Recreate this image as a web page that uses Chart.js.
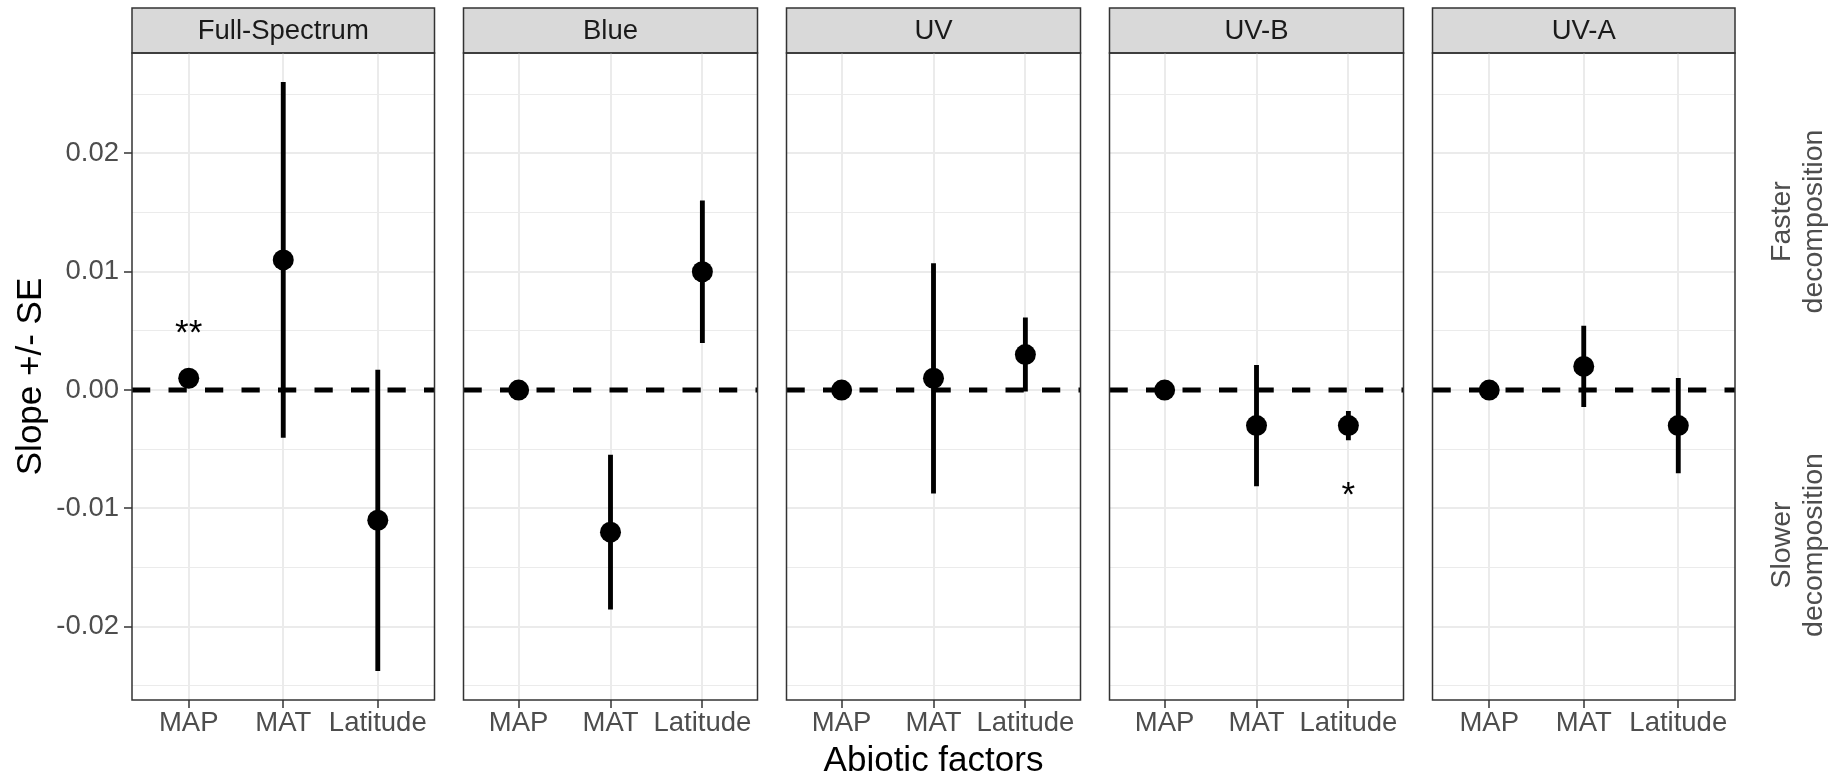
<!DOCTYPE html>
<html>
<head>
<meta charset="utf-8">
<title>Slope +/- SE by abiotic factor and light treatment</title>
<script src="https://cdn.jsdelivr.net/npm/chart.js@4/dist/chart.umd.min.js"></script>
<style>
  html, body { margin: 0; padding: 0; background: #ffffff; }
  #figure { position: relative; width: 1847px; height: 779px; overflow: hidden; background: #ffffff; }
  #figure canvas { position: absolute; top: 0; }
</style>
</head>
<body>
<div id="figure"></div>
<script>
// Light treatments (one facet each) and the abiotic factors on the x axis
const treatments = ['Full-Spectrum', 'Blue', 'UV', 'UV-B', 'UV-A'];
const factors = ['MAP', 'MAT', 'Latitude'];

// Slope estimates per treatment, in factor order
const slopeFullSpectrum = [0.001, 0.011, -0.011];
const slopeBlue         = [0.000, -0.012, 0.010];
const slopeUV           = [0.000, 0.001, 0.003];
const slopeUVB          = [0.000, -0.003, -0.003];
const slopeUVA          = [0.000, 0.002, -0.003];

// Standard errors, same order
const seFullSpectrum = [0.0003, 0.0150, 0.0127];
const seBlue         = [0.0002, 0.0065, 0.0060];
const seUV           = [0.0002, 0.0097, 0.0031];
const seUVB          = [0.0002, 0.0051, 0.0012];
const seUVA          = [0.0002, 0.0034, 0.0040];

// Significance marks
const sigTreatment = ['Full-Spectrum', 'UV-B'];
const sigFactor    = ['MAP', 'Latitude'];
const sigText      = ['**', '*'];
const sigY         = [0.0047, -0.0090];

// y axis breaks
const yMajorTicks = [-0.02, -0.01, 0.00, 0.01, 0.02];
const yTickLabels = ['-0.02', '-0.01', '0.00', '0.01', '0.02'];
const yMinorTicks = [-0.025, -0.015, -0.005, 0.005, 0.015, 0.025];

// Notes for the upper and lower halves of the y range
const upperNote = ['Faster', 'decomposition'];
const lowerNote = ['Slower', 'decomposition'];

const slopes = [slopeFullSpectrum, slopeBlue, slopeUV, slopeUVB, slopeUVA];
const ses = [seFullSpectrum, seBlue, seUV, seUVB, seUVA];

// ---- layout ----
const FIG_W = 1847, FIG_H = 779;
const PANEL_LEFT0 = 132, PANEL_W = 311, PANEL_PITCH = 323;
const STRIP_TOP = 8, STRIP_H = 45;
const XAXIS_H = 79;
const FONT = "'Liberation Sans', Arial, Helvetica, sans-serif";
const X_MIN = 0.4, X_MAX = factors.length + 0.6;

// shared y limits: data range of the error bars, widened by 5% on each side
let lo = Infinity, hi = -Infinity;
slopes.forEach((s, i) => s.forEach((v, k) => {
  lo = Math.min(lo, v - ses[i][k]);
  hi = Math.max(hi, v + ses[i][k]);
}));
const yPad = (hi - lo) * 0.05;
const yMin = lo - yPad, yMax = hi + yPad;
const yTickValues = yMajorTicks.concat(yMinorTicks).sort((a, b) => a - b);
const isMajor = v => yMajorTicks.indexOf(v) !== -1;

const figure = document.getElementById('figure');

function drawNote(ctx, lines, cx, cy) {
  ctx.save();
  ctx.translate(cx, cy);
  ctx.rotate(-Math.PI / 2);
  ctx.font = `28.5px ${FONT}`;
  ctx.fillStyle = '#4D4D4D';
  ctx.textAlign = 'center';
  ctx.textBaseline = 'middle';
  const step = 32;
  lines.forEach((t, j) => ctx.fillText(t, 0, (j - (lines.length - 1) / 2) * step));
  ctx.restore();
}

function makePanel(i) {
  const first = i === 0;
  const last = i === treatments.length - 1;
  const centre = i === Math.floor(treatments.length / 2);
  const panelLeft = PANEL_LEFT0 + i * PANEL_PITCH;
  const padL = first ? 0 : 2;
  const canvasLeft = first ? 0 : panelLeft - padL;
  const padR = last ? FIG_W - (panelLeft + PANEL_W) : 2;
  const canvasW = panelLeft + PANEL_W + padR - canvasLeft;

  const canvas = document.createElement('canvas');
  canvas.width = canvasW;
  canvas.height = FIG_H;
  canvas.style.left = canvasLeft + 'px';
  canvas.style.width = canvasW + 'px';
  canvas.style.height = FIG_H + 'px';
  figure.appendChild(canvas);

  const points = factors.map((f, k) => ({ x: k + 1, y: slopes[i][k] }));
  const bars = factors.map((f, k) => ({ x: k + 1, y: [slopes[i][k] - ses[i][k], slopes[i][k] + ses[i][k]] }));
  const zeroLine = [{ x: X_MIN, y: 0 }, { x: X_MAX, y: 0 }];

  const decor = {
    id: 'panelDecor',
    beforeDraw(chart) {
      const { ctx, chartArea: a } = chart;
      const tb = chart.titleBlock;
      ctx.save();
      ctx.fillStyle = '#D9D9D9';
      ctx.fillRect(a.left, tb.top, a.right - a.left, a.top - tb.top);
      ctx.strokeStyle = '#333333';
      ctx.lineWidth = 1.5;
      ctx.strokeRect(a.left, tb.top, a.right - a.left, a.top - tb.top);
      ctx.restore();
    },
    afterDraw(chart) {
      const { ctx, chartArea: a, scales } = chart;
      ctx.save();
      ctx.strokeStyle = '#333333';
      ctx.lineWidth = 1.5;
      ctx.strokeRect(a.left, a.top, a.right - a.left, a.bottom - a.top);

      ctx.fillStyle = '#000000';
      ctx.font = `35px ${FONT}`;
      ctx.textAlign = 'center';
      ctx.textBaseline = 'middle';
      sigTreatment.forEach((t, k) => {
        if (t !== treatments[i]) return;
        const x = scales.x.getPixelForValue(factors.indexOf(sigFactor[k]) + 1);
        const y = scales.y.getPixelForValue(sigY[k]);
        ctx.fillText(sigText[k], x, y);
      });
      ctx.restore();

      if (last) {
        const cx = a.right + 63;
        drawNote(ctx, upperNote, cx, scales.y.getPixelForValue(yMax / 2));
        drawNote(ctx, lowerNote, cx, scales.y.getPixelForValue(yMin / 2));
      }
    }
  };

  return new Chart(canvas, {
    type: 'scatter',
    data: {
      datasets: [
        {
          type: 'line',
          data: zeroLine,
          borderColor: '#000000',
          borderWidth: 5,
          borderDash: [18.25, 18.25],
          borderCapStyle: 'butt',
          pointRadius: 0,
          fill: false,
          order: 3
        },
        {
          type: 'bar',
          data: bars,
          backgroundColor: '#000000',
          borderWidth: 0,
          barThickness: 4.2,
          order: 2
        },
        {
          type: 'scatter',
          data: points,
          backgroundColor: '#000000',
          borderWidth: 0,
          pointRadius: 10.5,
          pointHoverRadius: 10.5,
          order: 1
        }
      ]
    },
    options: {
      responsive: false,
      animation: false,
      devicePixelRatio: 1,
      events: [],
      layout: { padding: { top: STRIP_TOP, left: padL, right: padR, bottom: 0 } },
      plugins: {
        legend: { display: false },
        tooltip: { enabled: false },
        title: {
          display: true,
          text: treatments[i],
          color: '#1A1A1A',
          position: 'top',
          fullSize: false,
          font: { family: FONT, size: 27.5, weight: 'normal', lineHeight: (STRIP_H - 1) / 27.5 },
          padding: { top: 1, bottom: 0 }
        }
      },
      scales: {
        x: {
          type: 'linear',
          min: X_MIN,
          max: X_MAX,
          bounds: 'data',
          offset: false,
          afterBuildTicks: s => { s.ticks = factors.map((f, k) => ({ value: k + 1 })); },
          afterFit: s => { s.height = XAXIS_H; },
          ticks: {
            autoSkip: false,
            padding: 0,
            maxRotation: 0,
            minRotation: 0,
            color: '#4D4D4D',
            font: { family: FONT, size: 27.5, lineHeight: 1.1 },
            callback: v => factors[Math.round(v) - 1]
          },
          grid: {
            color: '#EBEBEB',
            lineWidth: 2,
            offset: false,
            drawTicks: true,
            tickLength: 8,
            tickColor: '#333333',
            tickWidth: 1.5
          },
          border: { display: false },
          title: {
            display: centre,
            text: 'Abiotic factors',
            color: '#000000',
            font: { family: FONT, size: 35, lineHeight: 1.0 },
            padding: { top: 0, bottom: 0.5 }
          }
        },
        y: {
          type: 'linear',
          min: yMin,
          max: yMax,
          bounds: 'data',
          afterBuildTicks: s => { s.ticks = yTickValues.map(v => ({ value: v })); },
          afterFit: s => { s.width = first ? PANEL_LEFT0 : 0; },
          ticks: {
            display: first,
            autoSkip: false,
            padding: 5,
            color: '#4D4D4D',
            font: { family: FONT, size: 27.5, lineHeight: 1.2 },
            callback: v => {
              const j = yMajorTicks.indexOf(v);
              return j === -1 ? '' : yTickLabels[j];
            }
          },
          grid: {
            color: '#EBEBEB',
            lineWidth: c => (c.tick && isMajor(c.tick.value) ? 2 : 1),
            drawTicks: first,
            tickLength: 8,
            tickColor: c => (c.tick && isMajor(c.tick.value) ? '#333333' : 'rgba(0,0,0,0)'),
            tickWidth: 1.5
          },
          border: { display: false },
          title: {
            display: first,
            text: 'Slope +/- SE',
            color: '#000000',
            font: { family: FONT, size: 35, lineHeight: 1.2 },
            padding: { top: 10, bottom: 0 }
          }
        }
      }
    },
    plugins: [decor]
  });
}

treatments.forEach((t, i) => makePanel(i));
</script>
</body>
</html>
